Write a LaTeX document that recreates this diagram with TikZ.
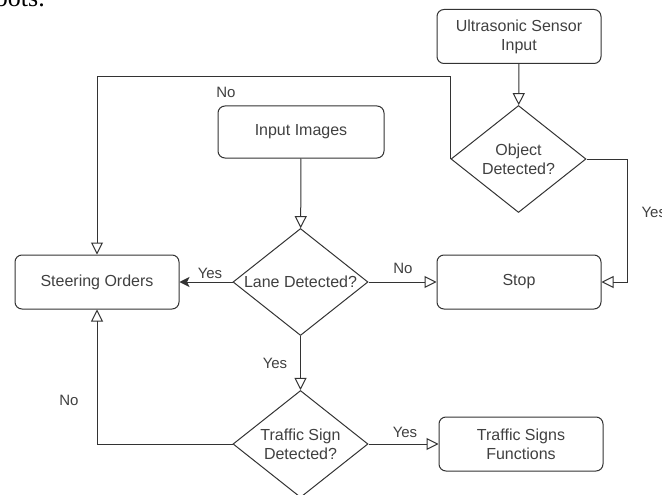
\documentclass[tikz,border=0pt]{standalone}
\usepackage{fontspec}
\setmainfont{Liberation Sans}
\newfontfamily\pagefont{Liberation Serif}
\usetikzlibrary{shapes.geometric,arrows.meta}

\def\boxw{164pt}
\def\boxh{54pt}

\begin{document}
\begin{tikzpicture}[x=1pt,y=-1pt,
    box/.style={rectangle,rounded corners=7pt,draw=black!80,line width=1pt,
        minimum width=\boxw,minimum height=\boxh,align=center,
        font=\fontsize{16}{19}\selectfont,text=black!75},
    decision/.style={diamond,draw=black!80,line width=1pt,inner sep=0pt,aspect=1.26,
        minimum width=135pt,minimum height=107pt,align=center,
        font=\fontsize{16}{19}\selectfont,text=black!75},
    lbl/.style={font=\fontsize{15}{17}\selectfont,text=black!75},
    flow/.style={draw=black!80,line width=1pt,-{Triangle[open,length=12pt,width=12pt]}},
    flowfill/.style={draw=black!80,line width=1pt,-{Stealth[length=10pt,width=10pt,inset=2.5pt]}},
]
\useasboundingbox (0,0) rectangle (662,495);
\clip (0,0) rectangle (662,495);

% cut-off caption line of the page
\node[anchor=base east,inner sep=0pt,font=\pagefont\fontsize{26}{30}\selectfont] (page) at (45,7) {robots.};

% blocks
\node[box] (sensor) at (519,36.5) {Ultrasonic Sensor\\Input};
\node[decision] (object) at (518.5,159) {Object\\Detected?};
\node[box,minimum width=166pt,minimum height=52pt] (images) at (301,132) {Input Images};
\node[decision] (lane) at (300.5,282) {Lane Detected?};
\node[box] (steer) at (97,282) {Steering Orders};
\node[box] (stop) at (519,282) {Stop};
\node[decision] (sign) at (300.5,444) {Traffic Sign\\Detected?};
\node[box] (signfn) at (521,444) {Traffic Signs\\Functions};

% connectors
\draw[flow] (sensor) -- (object);
\draw[flow] (images) -- (lane);
\draw[flow] (object.west) -- ++(0,-82) -| (steer.north);
\draw[flow] (object.east) -- ++(41,0) |- (stop.east);
\draw[flowfill] (lane) -- (steer);
\draw[flow] (lane) -- (stop);
\draw[flow] (lane) -- (sign);
\draw[flow] (sign.west) -| (steer.south);
\draw[flow] (sign) -- (signfn);

% branch labels
\node[lbl] (objno) at (226,92) {No};
\node[lbl,anchor=west] (objyes) at (638,212) {Yes};
\node[lbl] (laneyes) at (210,273) {Yes};
\node[lbl] (laneno) at (403,268) {No};
\node[lbl] (laneyes2) at (275,363) {Yes};
\node[lbl] (signno) at (69,400) {No};
\node[lbl] (signyes) at (405,432) {Yes};

\end{tikzpicture}
\end{document}
